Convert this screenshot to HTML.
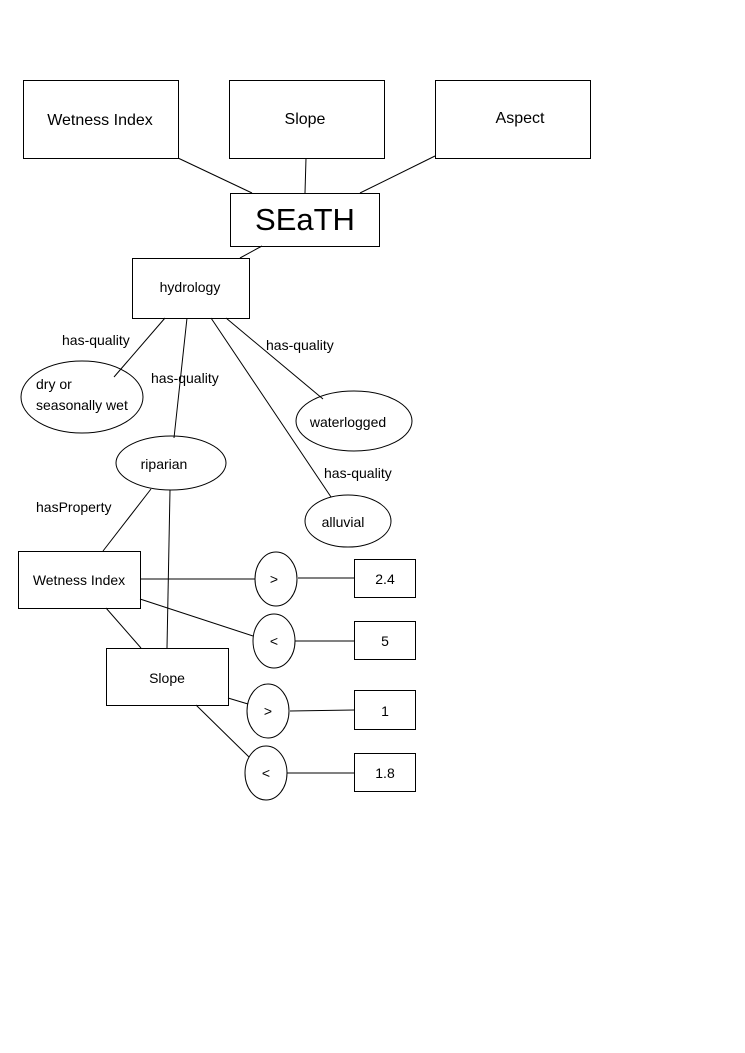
<!DOCTYPE html>
<html><head><style>body{margin:0;background:#fff}svg{display:block}text{font-family:"Liberation Sans",Arial,sans-serif;fill:#000}</style></head>
<body>
<svg width="745" height="1053" viewBox="0 0 745 1053" xmlns="http://www.w3.org/2000/svg">
<g fill="#fff" stroke="#000" stroke-width="1">
<rect x="23.5" y="80.5" width="155" height="78"/>
<rect x="229.5" y="80.5" width="155" height="78"/>
<rect x="435.5" y="80.5" width="155" height="78"/>
<rect x="230.5" y="193.5" width="149" height="53"/>
<rect x="132.5" y="258.5" width="117" height="60"/>
<ellipse cx="82" cy="397" rx="61" ry="36"/>
<ellipse cx="171" cy="463" rx="55" ry="27"/>
<ellipse cx="354" cy="421" rx="58" ry="30"/>
<ellipse cx="348" cy="521" rx="43" ry="26"/>
<rect x="18.5" y="551.5" width="122" height="57"/>
<rect x="106.5" y="648.5" width="122" height="57"/>
<ellipse cx="276" cy="579" rx="21" ry="27"/>
<ellipse cx="274" cy="641" rx="21" ry="27"/>
<ellipse cx="268" cy="711" rx="21" ry="27"/>
<ellipse cx="266" cy="773" rx="21" ry="27"/>
<rect x="354.5" y="559.5" width="61" height="38"/>
<rect x="354.5" y="621.5" width="61" height="38"/>
<rect x="354.5" y="690.5" width="61" height="39"/>
<rect x="354.5" y="753.5" width="61" height="38"/>
</g>
<g stroke="#000" stroke-width="1" fill="none">
<line x1="178" y1="158" x2="252" y2="193"/>
<line x1="306" y1="158" x2="305" y2="193"/>
<line x1="435" y1="156" x2="360" y2="193"/>
<line x1="262" y1="246" x2="240" y2="258"/>
<line x1="165" y1="318" x2="114" y2="377"/>
<line x1="187" y1="318" x2="174" y2="438"/>
<line x1="226" y1="318" x2="323" y2="399"/>
<line x1="211" y1="318" x2="331" y2="497"/>
<line x1="151" y1="489" x2="103" y2="551"/>
<line x1="170" y1="490" x2="167" y2="648"/>
<line x1="106" y1="608" x2="141" y2="648"/>
<line x1="140" y1="579" x2="255" y2="579"/>
<line x1="140" y1="599" x2="253" y2="636"/>
<line x1="228" y1="698" x2="248" y2="704"/>
<line x1="196" y1="705" x2="249" y2="757"/>
<line x1="298" y1="578" x2="354" y2="578"/>
<line x1="295" y1="641" x2="354" y2="641"/>
<line x1="290" y1="711" x2="354" y2="710"/>
<line x1="287" y1="773" x2="354" y2="773"/>
</g>
<g font-size="16">
<text x="100" y="125" text-anchor="middle">Wetness Index</text>
<text x="305" y="124" text-anchor="middle">Slope</text>
<text x="520" y="123" text-anchor="middle">Aspect</text>
</g>
<text x="305" y="230" font-size="31" text-anchor="middle">SEaTH</text>
<g font-size="14">
<text x="190" y="292" text-anchor="middle">hydrology</text>
<text x="36" y="389">dry or</text>
<text x="36" y="410">seasonally wet</text>
<text x="164" y="469" text-anchor="middle">riparian</text>
<text x="348" y="427" text-anchor="middle">waterlogged</text>
<text x="343" y="527" text-anchor="middle">alluvial</text>
<text x="62" y="345">has-quality</text>
<text x="151" y="383">has-quality</text>
<text x="266" y="350">has-quality</text>
<text x="324" y="478">has-quality</text>
<text x="36" y="512">hasProperty</text>
<text x="79" y="585" text-anchor="middle">Wetness Index</text>
<text x="167" y="683" text-anchor="middle">Slope</text>
<text x="274" y="584" text-anchor="middle">&gt;</text>
<text x="274" y="646" text-anchor="middle">&lt;</text>
<text x="268" y="716" text-anchor="middle">&gt;</text>
<text x="266" y="778" text-anchor="middle">&lt;</text>
<text x="385" y="584" text-anchor="middle">2.4</text>
<text x="385" y="646" text-anchor="middle">5</text>
<text x="385" y="716" text-anchor="middle">1</text>
<text x="385" y="778" text-anchor="middle">1.8</text>
</g>
</svg>
</body></html>
